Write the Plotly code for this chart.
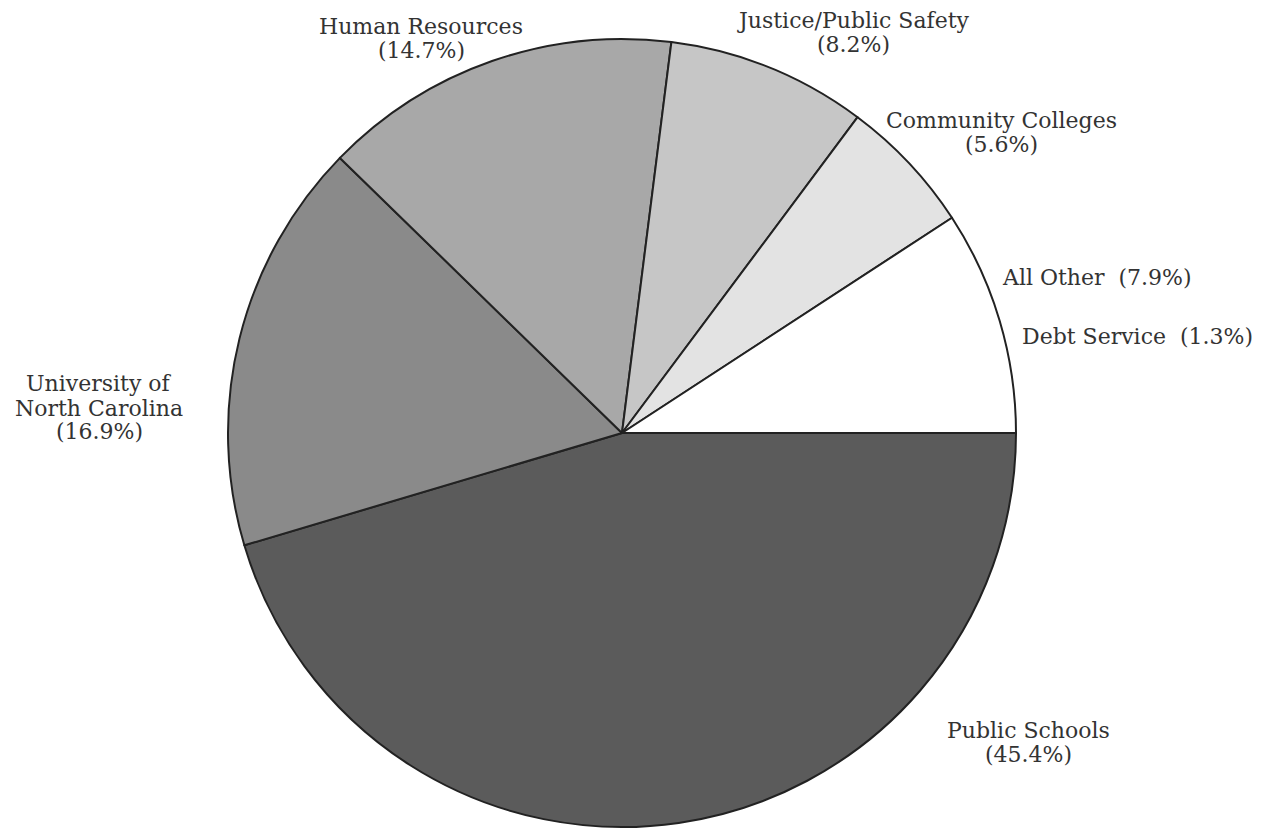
import plotly.graph_objects as go

W, H = 1271, 829

# Data (clockwise from 3 o'clock)
categories = ["Public Schools", "University of North Carolina", "Human Resources",
              "Justice/Public Safety", "Community Colleges", "All Other", "Debt Service"]
shares = [45.4, 16.9, 14.7, 8.2, 5.6, 7.9, 1.3]
fills = ["#5b5b5b", "#8a8a8a", "#a8a8a8", "#c6c6c6", "#e3e3e3", "#ffffff", "#ffffff"]

# All Other and Debt Service share one unbroken white wedge in the original
plot_labels = categories[:5] + ["All Other / Debt Service"]
plot_values = shares[:5] + [shares[5] + shares[6]]
plot_colors = fills[:6]

cx, cy, r = 622, 433, 394

fig = go.Figure(go.Pie(
    labels=plot_labels,
    values=plot_values,
    sort=False,
    direction="clockwise",
    rotation=90,
    textinfo="none",
    hoverinfo="label+percent",
    showlegend=False,
    marker=dict(colors=plot_colors, line=dict(color="#222222", width=2)),
    domain=dict(x=[(cx - r) / W, (cx + r) / W], y=[1 - (cy + r) / H, 1 - (cy - r) / H]),
))

FONT = dict(family="DejaVu Serif, Liberation Serif, serif", size=22, color="#333333")

# label lines & positions (pixel x, pixel y of each line centre)
label_specs = [
    ([categories[2], f"({shares[2]}%)"], 421, [27, 50], "center"),
    ([categories[3], f"({shares[3]}%)"], 853, [20, 44], "center"),
    ([categories[4], f"({shares[4]}%)"], 1001, [120, 144], "center"),
    ([f"{categories[5]}  ({shares[5]}%)"], 1000, [277], "left"),
    ([f"{categories[6]}  ({shares[6]}%)"], 1020, [337], "left"),
    (["University of", "North Carolina", f"({shares[1]}%)"], 99, [384, 408, 431], "center"),
    (["Public Schools", f"({shares[0]}%)"], 1028, [730, 754], "center"),
]

for lines, x, ys, align in label_specs:
    for text, y in zip(lines, ys):
        fig.add_annotation(
            text=text, x=x / W, y=1 - y / H, xref="paper", yref="paper",
            xanchor="left" if align == "left" else "center", yanchor="middle",
            showarrow=False, font=FONT,
        )

fig.update_layout(
    width=W, height=H,
    margin=dict(l=0, r=0, t=0, b=0),
    paper_bgcolor="white", plot_bgcolor="white",
)

fig.write_html("out.html")
